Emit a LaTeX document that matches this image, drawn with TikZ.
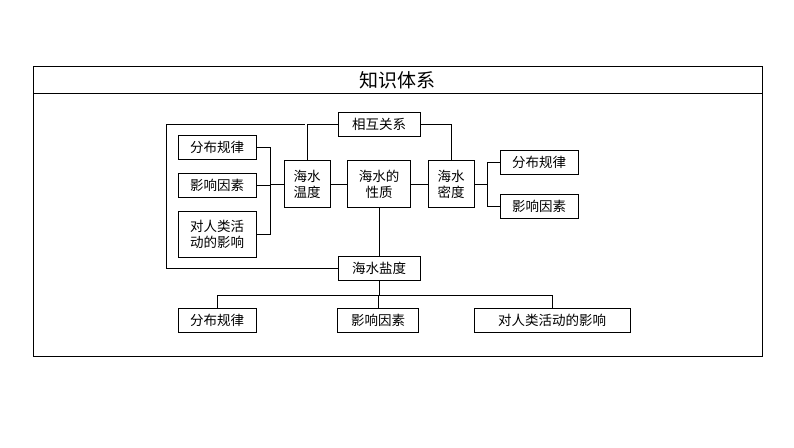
\documentclass[tikz,border=0pt]{standalone}
\usepackage{fontspec}
\newfontfamily\cjk{Noto Sans CJK SC}
\begin{document}
\begin{tikzpicture}[x=1pt,y=-1pt,
 bx/.style={draw,line width=0.8pt,inner sep=0pt,font=\cjk\fontsize{13.5}{16}\selectfont,align=center},
 ln/.style={line width=0.9pt}]
\useasboundingbox (0,0) rectangle (794,447);
\fill[white] (0,0) rectangle (794,447);
\draw[line width=0.8pt] (33,66) rectangle (762,356);
\draw[line width=0.8pt] (33,93) -- (762,93);
\node[font=\cjk\fontsize{19}{21}\selectfont] (t) at (397,80) {知识体系};
\node[bx,minimum width=82,minimum height=24] (rel) at (379,124) {相互关系};
\node[bx,minimum width=46,minimum height=47] (tem) at (307,184) {海水\\温度};
\node[bx,minimum width=63,minimum height=47] (pro) at (379,184) {海水的\\性质};
\node[bx,minimum width=46,minimum height=47] (den) at (451,184) {海水\\密度};
\node[bx,minimum width=78,minimum height=24] (l1) at (217,147) {分布规律};
\node[bx,minimum width=78,minimum height=24] (l2) at (217,185) {影响因素};
\node[bx,minimum width=78,minimum height=46] (l3) at (217,234) {对人类活\\动的影响};
\node[bx,minimum width=78,minimum height=24] (r1) at (539,162) {分布规律};
\node[bx,minimum width=78,minimum height=24] (r2) at (539,206) {影响因素};
\node[bx,minimum width=82,minimum height=24] (sal) at (379,268) {海水盐度};
\node[bx,minimum width=78,minimum height=24] (b1) at (217,320) {分布规律};
\node[bx,minimum width=81,minimum height=24] (b2) at (378,320) {影响因素};
\node[bx,minimum width=156,minimum height=24] (b3) at (552,320) {对人类活动的影响};
\coordinate (lj) at (270,184);
\coordinate (rj) at (487,184);
\coordinate (lc) at (305,124);
\coordinate (bj) at (379,295.5);
\draw[ln] (rel.west) -| (tem.north);
\draw[ln] (rel.east) -| (den.north);
\draw[ln] (tem.east) -- (pro.west);
\draw[ln] (pro.east) -- (den.west);
\draw[ln] (pro.south) -- (sal.north);
\draw[ln] (tem.west) -- (lj);
\draw[ln] (l1.east) -| (lj |- l3.east) -- (l3.east);
\draw[ln] (l2.east) -- (lj |- l2.east);
\draw[ln] (den.east) -- (rj);
\draw[ln] (r1.west) -| (rj |- r2.west) -- (r2.west);
\draw[ln] (lc) -- (166,124) |- (sal.west);
\draw[ln] (sal.south) -- (bj);
\draw[ln] (b1.north) -- (b1.north |- bj) -- (b3.north |- bj) -- (b3.north);
\draw[ln] (bj -| b2.north) -- (b2.north);
\end{tikzpicture}
\end{document}
